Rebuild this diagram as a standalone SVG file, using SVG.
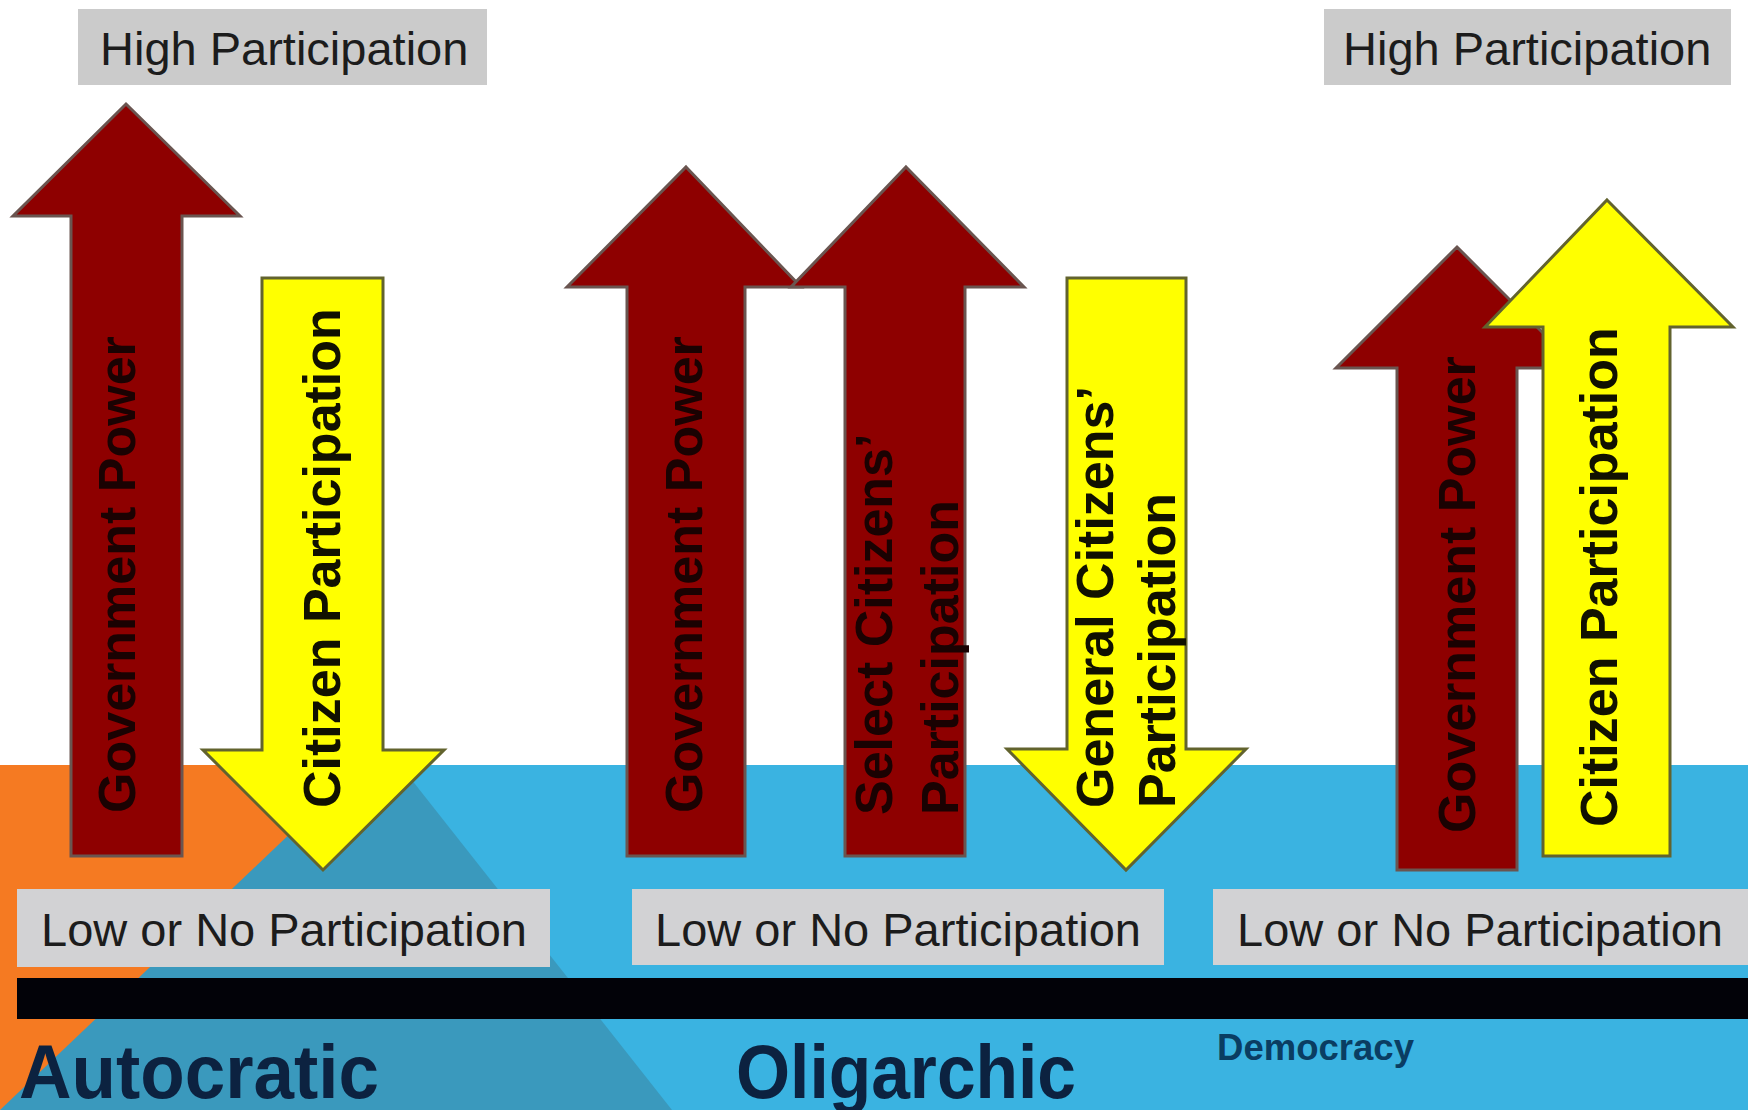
<svg xmlns="http://www.w3.org/2000/svg" width="1748" height="1110" viewBox="0 0 1748 1110">
  <style>
    .lbl { font-family: "Liberation Sans", Arial, sans-serif; font-size: 47px; fill: #1c1c1c; }
    .box { fill: #d2d2d4; }
    .hbox { fill: #cbcbcb; }
    .red { fill: #8e0000; stroke: #6a5550; stroke-width: 3; stroke-linejoin: miter; }
    .yel { fill: #ffff00; stroke: #62632e; stroke-width: 3; stroke-linejoin: miter; }
    .at { font-family: "Liberation Sans", Arial, sans-serif; font-size: 52px; font-weight: bold; }
    .onred { fill: #1a0202; }
    .onyel { fill: #111100; }
    .big { font-family: "Liberation Sans", Arial, sans-serif; font-weight: bold; fill: #0c2240; }
  </style>
  <rect width="1748" height="1110" fill="#ffffff"/>
  <g id="background">
    <rect x="0" y="765" width="1748" height="345" fill="#3ab3e1"/>
    <polygon points="300,765 400,765 672,1110 0,1110" fill="#3a99bd"/>
    <polygon points="0,765 362,765 0,1110" fill="#f57a22"/>
    <rect x="17" y="978" width="1731" height="41" fill="#020208"/>
  </g>

  <g id="high-left">
    <rect class="hbox" x="78" y="9" width="409" height="76"/>
    <text class="lbl" x="100" y="65">High Participation</text>
  </g>
  <g id="high-right">
    <rect class="hbox" x="1324" y="9" width="407" height="76"/>
    <text class="lbl" x="1343" y="65">High Participation</text>
  </g>

  <g id="low-1">
    <rect class="box" x="17" y="889" width="533" height="78"/>
    <text class="lbl" x="41" y="946">Low or No Participation</text>
  </g>
  <g id="low-2">
    <rect class="box" x="632" y="889" width="532" height="76"/>
    <text class="lbl" x="655" y="946">Low or No Participation</text>
  </g>
  <g id="low-3">
    <rect class="box" x="1213" y="889" width="535" height="76"/>
    <text class="lbl" x="1237" y="946">Low or No Participation</text>
  </g>

  <g id="arrow-autocratic-gov">
    <polygon class="red" points="126,104 240,216 182,216 182,856 71,856 71,216 13,216"/>
    <text class="at onred" transform="translate(135,813) rotate(-90)">Government Power</text>
  </g>
  <g id="arrow-autocratic-citizen">
    <polygon class="yel" points="262,278 383,278 383,750 444,750 323,870 203,750 262,750"/>
    <text class="at onyel" transform="translate(340,808) rotate(-90)">Citizen Participation</text>
  </g>

  <g id="arrow-oligarchic-gov">
    <polygon class="red" points="686,167 801,287 745,287 745,856 627,856 627,287 567,287"/>
    <text class="at onred" transform="translate(702,813) rotate(-90)">Government Power</text>
  </g>
  <g id="arrow-oligarchic-select">
    <polygon class="red" points="906,167 1024,287 965,287 965,856 845,856 845,287 791,287"/>
    <text class="at onred" transform="translate(892,815) rotate(-90)">Select Citizens’</text>
    <text class="at onred" transform="translate(958,815) rotate(-90)">Participation</text>
  </g>
  <g id="arrow-oligarchic-general">
    <polygon class="yel" points="1067,278 1186,278 1186,749 1246,749 1126,870 1007,749 1067,749"/>
    <text class="at onyel" transform="translate(1113,808) rotate(-90)">General Citizens’</text>
    <text class="at onyel" transform="translate(1175,808) rotate(-90)">Participation</text>
  </g>

  <g id="arrow-democracy-gov">
    <polygon class="red" points="1457,247 1578,368 1517,368 1517,870 1397,870 1397,368 1336,368"/>
    <text class="at onred" transform="translate(1475,833) rotate(-90)">Government Power</text>
  </g>
  <g id="arrow-democracy-citizen">
    <polygon class="yel" points="1607,200 1733,327 1670,327 1670,856 1543,856 1543,327 1485,327"/>
    <text class="at onyel" transform="translate(1617,827) rotate(-90)">Citizen Participation</text>
  </g>

  <g id="labels">
    <text class="big" x="19" y="1098" font-size="76" textLength="360" lengthAdjust="spacingAndGlyphs">Autocratic</text>
    <text class="big" x="736" y="1098" font-size="76" textLength="340" lengthAdjust="spacingAndGlyphs">Oligarchic</text>
    <text class="big" x="1217" y="1060" font-size="37" textLength="197" lengthAdjust="spacingAndGlyphs" style="fill:#0a3d62">Democracy</text>
  </g>
  <g id="connectors"></g>
</svg>
